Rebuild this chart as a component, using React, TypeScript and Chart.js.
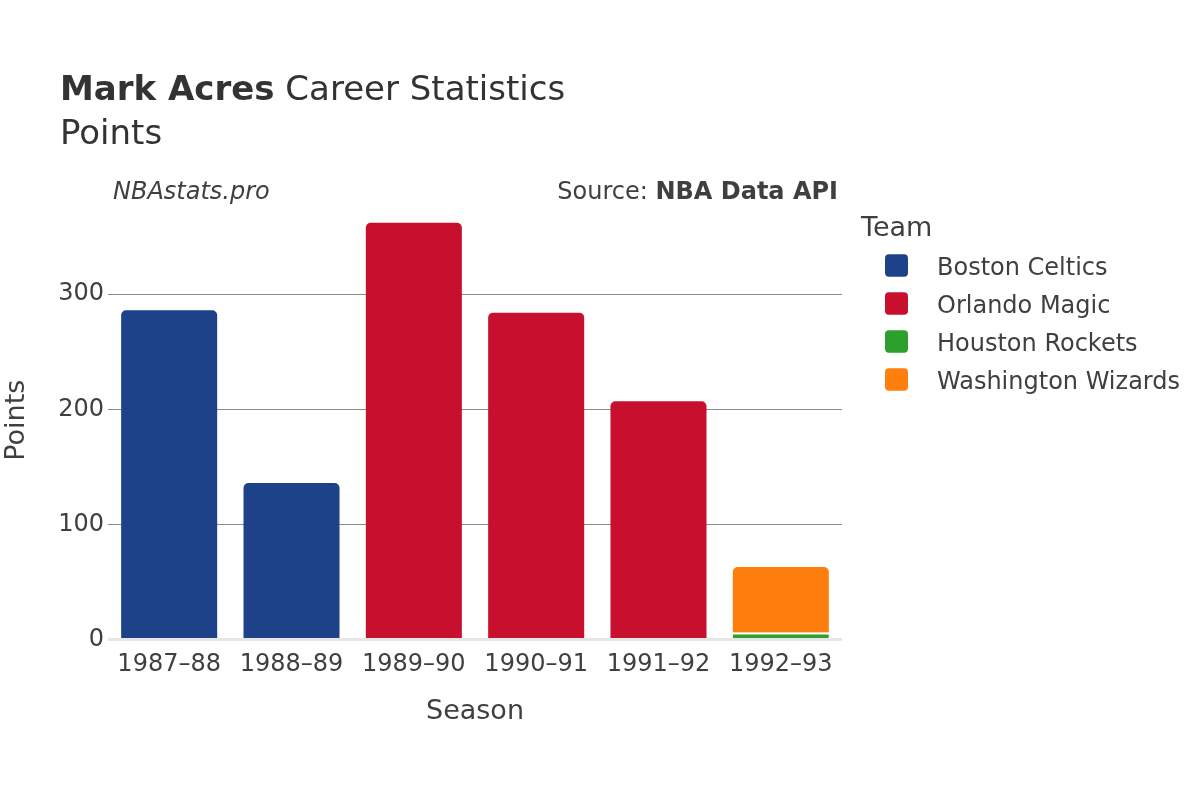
import React, { useEffect, useRef } from "react";
import { Chart, registerables } from "chart.js";

Chart.register(...registerables);

const seasons = ["1987–88", "1988–89", "1989–90", "1990–91", "1991–92", "1992–93"];
const teams = ["Boston Celtics", "Orlando Magic", "Houston Rockets", "Washington Wizards"];
const teamColors = ["#1d428a", "#c8102e", "#2ca02c", "#ff7f0e"];
const bostonPts = [286, 136, null, null, null, null];
const orlandoPts = [null, null, 362, 284, 207, null];
const houstonPts = [null, null, null, null, null, 6];
const washingtonPts = [null, null, null, null, null, 57];
const yTickValues = [0, 100, 200, 300];
const yMax = 381;

const FONT = '"DejaVu Sans", sans-serif';
const TEXT = "#3f3f3f";

const overlayPlugin = {
  id: "overlay",
  afterDraw(chart: any) {
    const ctx = chart.ctx;
    ctx.save();
    ctx.textBaseline = "alphabetic";
    ctx.textAlign = "left";
    // Title
    ctx.fillStyle = "#333";
    ctx.font = `bold 34px ${FONT}`;
    ctx.fillText("Mark Acres", 60, 100);
    const w = ctx.measureText("Mark Acres").width;
    ctx.font = `34px ${FONT}`;
    ctx.fillText(" Career Statistics", 60 + w, 100);
    ctx.font = `34px ${FONT}`;
    ctx.fillText("Points", 60, 144);
    // Branding
    ctx.fillStyle = TEXT;
    ctx.font = `italic 24px ${FONT}`;
    ctx.fillText("NBAstats.pro", 113, 199);
    ctx.font = `bold 24px ${FONT}`;
    const bw = ctx.measureText("NBA Data API").width;
    ctx.fillText("NBA Data API", 838 - bw, 199);
    ctx.font = `24px ${FONT}`;
    ctx.textAlign = "right";
    ctx.fillText("Source: ", 838 - bw, 199);
    ctx.textAlign = "left";
    // Legend
    ctx.font = `27px ${FONT}`;
    ctx.fillText("Team", 861, 236);
    chart.data.datasets.forEach((ds: any, i: number) => {
      const cy = 265.5 + i * 38;
      ctx.fillStyle = ds.backgroundColor;
      ctx.beginPath();
      (ctx as any).roundRect(885, cy - 11.25, 23, 22.5, 4);
      ctx.fill();
      ctx.fillStyle = TEXT;
      ctx.font = `24px ${FONT}`;
      ctx.fillText(ds.label, 937, cy + 9);
    });
    ctx.restore();
  },
};

export default function App() {
  const ref = useRef<HTMLCanvasElement>(null);
  useEffect(() => {
    document.body.style.margin = "0";
    const datasets = [bostonPts, orlandoPts, houstonPts, washingtonPts].map((d, i) => ({
      label: teams[i],
      data: d,
      backgroundColor: teamColors[i],
      borderColor: "#ffffff",
      borderWidth: i === 2 ? { top: 2, left: 0, right: 0, bottom: 0 } : 0,
      borderRadius: 5,
      barPercentage: 0.785,
      categoryPercentage: 1,
    }));
    const chart = new Chart(ref.current!, {
      type: "bar",
      data: { labels: seasons, datasets },
      options: {
        responsive: false,
        animation: false,
        layout: { padding: { left: 0, right: 358, top: 201, bottom: 70.5 } },
        plugins: { legend: { display: false }, title: { display: false }, tooltip: { enabled: false } },
        scales: {
          x: {
            stacked: true,
            grid: { display: false },
            border: { display: false },
            ticks: { color: TEXT, font: { family: FONT, size: 24 }, padding: 3, maxRotation: 0 },
            title: { display: true, text: "Season", color: TEXT, font: { family: FONT, size: 27 }, padding: { top: 0, bottom: 1 } },
            afterFit: (s: any) => { s.height = 90; },
          },
          y: {
            stacked: true,
            min: 0,
            max: yMax,
            afterBuildTicks: (s: any) => { s.ticks = yTickValues.map((v) => ({ value: v })); },
            grid: {
              drawTicks: false,
              color: (c: any) => (c.tick && c.tick.value === 0 ? "#e6e6e6" : "#8a8a8a"),
              lineWidth: (c: any) => (c.tick && c.tick.value === 0 ? 3 : 1),
            },
            border: { display: false },
            ticks: { color: TEXT, font: { family: FONT, size: 24 }, padding: 4 },
            title: { display: true, text: "Points", color: TEXT, font: { family: FONT, size: 27 }, padding: { top: 1, bottom: 0 } },
            afterFit: (s: any) => { s.width = 108; },
          },
        },
      },
      plugins: [overlayPlugin],
    });
    return () => chart.destroy();
  }, []);
  return (
    <div style={{ position: "absolute", left: 0, top: 0, width: 1200, height: 800, background: "#fff" }}>
      <canvas ref={ref} width={1200} height={800} style={{ width: 1200, height: 800 }} />
    </div>
  );
}
